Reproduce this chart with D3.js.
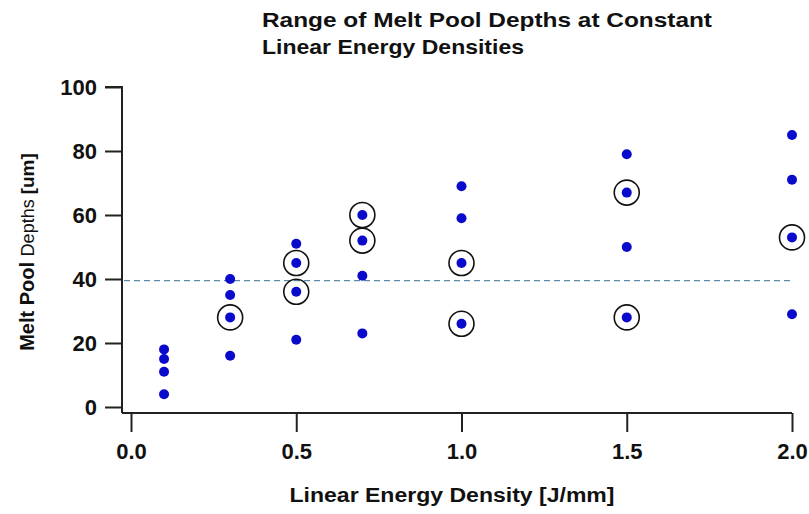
<!DOCTYPE html>
<html>
<head>
<meta charset="utf-8">
<script src="https://cdn.jsdelivr.net/npm/d3@7"></script>
<style>
  body { margin: 0; background: #fff; }
  text { font-family: "Liberation Sans", Arial, sans-serif; }
</style>
</head>
<body>
<div id="chart"></div>
<script>
// energy density per group and measured depths
const energy = [0.1, 0.3, 0.5, 0.7, 1.0, 1.5, 2.0];
const depths = [
  [18, 15, 11, 4],
  [40, 35, 28, 16],
  [51, 45, 36, 21],
  [60, 52, 41, 23],
  [69, 59, 45, 26],
  [79, 67, 50, 28],
  [85, 71, 53, 29]
];
// which depths got a ring around them
const circled = [
  [],
  [28],
  [45, 36],
  [60, 52],
  [45, 26],
  [67, 28],
  [53]
];
const xTicks = [0.0, 0.5, 1.0, 1.5, 2.0];
const yTicks = [0, 20, 40, 60, 80, 100];
const refDepth = 39.5;

const width = 809, height = 514;
const svg = d3.select("#chart").append("svg").attr("width", width).attr("height", height);

const x = d3.scaleLinear().domain([0, 2]).range([131, 792]);
const y = d3.scaleLinear().domain([0, 100]).range([407, 87]);

// y axis
const yAxis = svg.append("g").attr("transform", "translate(122,0)")
  .call(d3.axisLeft(y).tickValues(yTicks).tickSize(17).tickPadding(8).tickFormat(d3.format("d")));
yAxis.select(".domain").attr("d", "M-17,87H0V413");
// x axis
const xAxis = svg.append("g").attr("transform", "translate(0,413)")
  .call(d3.axisBottom(x).tickValues(xTicks).tickSize(19).tickPadding(11).tickFormat(d3.format(".1f")));
xAxis.select(".domain").attr("d", "M122,0H792");

svg.selectAll(".domain, .tick line").attr("stroke", "#222").attr("stroke-width", 2);
svg.selectAll(".tick text").attr("font-size", 22).attr("font-weight", "bold").attr("fill", "#111")
  .attr("font-family", "Liberation Sans, Arial, sans-serif");
yAxis.selectAll(".tick text").attr("dy", "0.35em");

// dashed reference line
svg.append("line")
  .attr("x1", 124).attr("x2", x(2))
  .attr("y1", y(refDepth)).attr("y2", y(refDepth))
  .attr("stroke", "#5b8aa6").attr("stroke-width", 1.3).attr("stroke-dasharray", "6,4");

// points
const pts = [];
energy.forEach((e, i) => depths[i].forEach(d => pts.push({e: e, d: d, c: circled[i].includes(d)})));

svg.append("g").selectAll("circle")
  .data(pts.filter(p => p.c)).enter().append("circle")
  .attr("cx", d => x(d.e)).attr("cy", d => y(d.d)).attr("r", 12.5)
  .attr("fill", "none").attr("stroke", "#111").attr("stroke-width", 1.6);

svg.append("g").selectAll("circle")
  .data(pts).enter().append("circle")
  .attr("cx", d => x(d.e)).attr("cy", d => y(d.d)).attr("r", 5)
  .attr("fill", "#0a0acc");

// title
const title = svg.append("text").attr("x", 262).attr("font-weight", "bold").attr("font-size", 21).attr("fill", "#111");
title.append("tspan").attr("x", 262).attr("y", 27).attr("textLength", 450).attr("lengthAdjust", "spacingAndGlyphs")
  .text("Range of Melt Pool Depths at Constant");
title.append("tspan").attr("x", 262).attr("y", 54).attr("textLength", 262).attr("lengthAdjust", "spacingAndGlyphs")
  .text("Linear Energy Densities");

// x label
svg.append("text").attr("x", 452).attr("y", 502).attr("text-anchor", "middle")
  .attr("font-weight", "bold").attr("font-size", 20).attr("fill", "#111")
  .attr("textLength", 325).attr("lengthAdjust", "spacingAndGlyphs")
  .text("Linear Energy Density [J/mm]");

// y label
const yl = svg.append("text").attr("transform", "translate(34,252) rotate(-90)")
  .attr("text-anchor", "middle").attr("fill", "#111");
yl.append("tspan").attr("font-weight", "bold").attr("font-size", 20).text("Melt Pool ");
yl.append("tspan").attr("font-size", 18).text("Depths ");
yl.append("tspan").attr("font-weight", "bold").attr("font-size", 19).text("[um]");
</script>
</body>
</html>
